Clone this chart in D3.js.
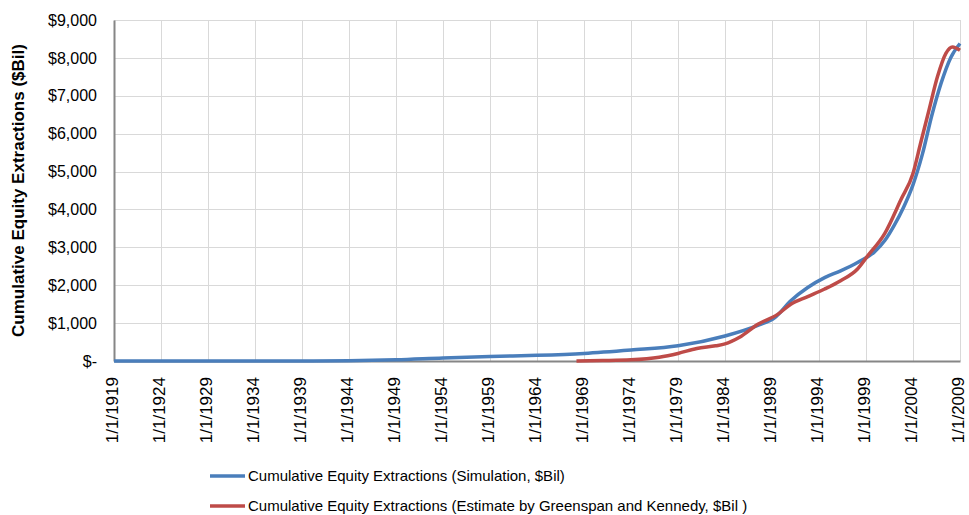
<!DOCTYPE html>
<html>
<head>
<meta charset="utf-8">
<script src="https://cdn.jsdelivr.net/npm/d3@7"></script>
<style>
  body { margin: 0; background: #fff; }
  svg { font-family: "Liberation Sans", Arial, sans-serif; }
</style>
</head>
<body>
<div id="chart"></div>
<script>
// simulated cumulative equity extractions, $Bil (year as decimal)
var simYears  = [1919, 1930, 1940, 1944, 1949, 1954, 1959, 1964, 1969, 1974, 1979, 1984, 1987.5, 1989.3, 1991, 1992.8, 1994.6, 1996.3, 1998.1, 1999.9, 2001, 2002, 2003, 2004, 2005, 2006, 2007, 2008, 2009];
var simValues = [0, 0, 0, 5, 30, 80, 120, 150, 200, 290, 400, 660, 940, 1145, 1590, 1940, 2200, 2380, 2600, 2880, 3180, 3580, 4060, 4650, 5460, 6480, 7340, 8000, 8380];

// Greenspan and Kennedy estimate, $Bil
var gkYears  = [1968.2, 1971, 1974, 1977, 1979, 1981, 1983, 1984, 1985.5, 1987.5, 1989.6, 1991, 1992.8, 1994.6, 1996.3, 1998.1, 1999.2, 2001, 2002.7, 2004, 2004.8, 2005.7, 2006.6, 2007.5, 2008.2, 2009];
var gkValues = [0, 10, 30, 100, 200, 330, 400, 450, 620, 970, 1230, 1500, 1700, 1900, 2120, 2430, 2780, 3370, 4250, 4950, 5740, 6620, 7500, 8120, 8290, 8200];

var yTicks = [0, 1000, 2000, 3000, 4000, 5000, 6000, 7000, 8000, 9000];
var xTickYears = d3.range(1919, 2010, 5);

var seriesNames = [
  "Cumulative Equity Extractions (Simulation, $Bil)",
  "Cumulative Equity Extractions (Estimate by Greenspan and Kennedy, $Bil )"
];
var colors = ["#4a7ebb", "#be4b48"];

var width = 969, height = 515;
var margin = {left: 114, right: 9, top: 20, bottom: 153};

function yearToDate(y) {
  var yr = Math.floor(y);
  var start = new Date(yr, 0, 1), end = new Date(yr + 1, 0, 1);
  return new Date(start.getTime() + (y - yr) * (end - start));
}

var svg = d3.select("#chart").append("svg")
  .attr("width", width)
  .attr("height", height);

var x = d3.scaleTime()
  .domain([new Date(1919, 0, 1), new Date(2009, 0, 1)])
  .range([margin.left, width - margin.right]);

var y = d3.scaleLinear()
  .domain([0, 9000])
  .range([height - margin.bottom - 1, margin.top]);

// gridlines
svg.append("g")
  .selectAll("line.h")
  .data(yTicks.slice(1))
  .enter().append("line")
    .attr("x1", margin.left).attr("x2", width - margin.right)
    .attr("y1", function(d) { return Math.round(y(d)) + 0.5; })
    .attr("y2", function(d) { return Math.round(y(d)) + 0.5; })
    .attr("stroke", "#d9d9d9");

svg.append("g")
  .selectAll("line.v")
  .data(xTickYears.slice(1))
  .enter().append("line")
    .attr("x1", function(d) { return Math.round(x(new Date(d, 0, 1))) + 0.5; })
    .attr("x2", function(d) { return Math.round(x(new Date(d, 0, 1))) + 0.5; })
    .attr("y1", margin.top).attr("y2", y(0))
    .attr("stroke", "#d9d9d9");

// axes
var yAxis = d3.axisLeft(y)
  .tickValues(yTicks)
  .tickSize(0)
  .tickPadding(17)
  .tickFormat(function(d) { return d === 0 ? "$-" : "$" + d3.format(",")(d); });

var gy = svg.append("g")
  .attr("transform", "translate(" + margin.left + ",0)")
  .call(yAxis);
gy.select(".domain").attr("stroke", "#868686").attr("stroke-width", 2);
gy.selectAll("text").attr("font-size", 16).attr("fill", "#000")
  .attr("font-family", "Liberation Sans, Arial, sans-serif");

var xAxis = d3.axisBottom(x)
  .tickValues(xTickYears.map(function(d) { return new Date(d, 0, 1); }))
  .tickSize(0)
  .tickFormat(d3.timeFormat("%-m/%-d/%Y"));

var gx = svg.append("g")
  .attr("transform", "translate(0," + y(0) + ")")
  .call(xAxis);
gx.select(".domain").attr("stroke", "#868686").attr("stroke-width", 2);
gx.selectAll("text")
  .attr("font-size", 17)
  .attr("fill", "#000")
  .attr("font-family", "Liberation Sans, Arial, sans-serif")
  .attr("transform", "rotate(-90)")
  .attr("text-anchor", "end")
  .attr("x", -16)
  .attr("y", 0)
  .attr("dy", "0.2em");

// y axis title
svg.append("text")
  .attr("transform", "translate(24," + ((margin.top + y(0)) / 2) + ") rotate(-90)")
  .attr("text-anchor", "middle")
  .attr("font-size", 17)
  .attr("font-weight", "bold")
  .text("Cumulative Equity Extractions ($Bil)");

// lines
var line = d3.line()
  .x(function(d) { return x(yearToDate(d[0])); })
  .y(function(d) { return y(d[1]); })
  .curve(d3.curveMonotoneX);

var simData = simYears.map(function(d, i) { return [d, simValues[i]]; });
var gkData = gkYears.map(function(d, i) { return [d, gkValues[i]]; });

svg.append("path")
  .datum(simData)
  .attr("d", line)
  .attr("fill", "none")
  .attr("stroke", colors[0])
  .attr("stroke-width", 3.5);

svg.append("path")
  .datum(gkData)
  .attr("d", line)
  .attr("fill", "none")
  .attr("stroke", colors[1])
  .attr("stroke-width", 3.5);

// legend
var legend = svg.append("g")
  .selectAll("g")
  .data(seriesNames)
  .enter().append("g")
    .attr("transform", function(d, i) { return "translate(210," + (476 + i * 30) + ")"; });

legend.append("line")
  .attr("x1", 0).attr("x2", 35)
  .attr("stroke", function(d, i) { return colors[i]; })
  .attr("stroke-width", 3.5);

legend.append("text")
  .attr("x", 38)
  .attr("dy", "0.35em")
  .attr("font-size", 15)
  .text(function(d) { return d; });
</script>
</body>
</html>
